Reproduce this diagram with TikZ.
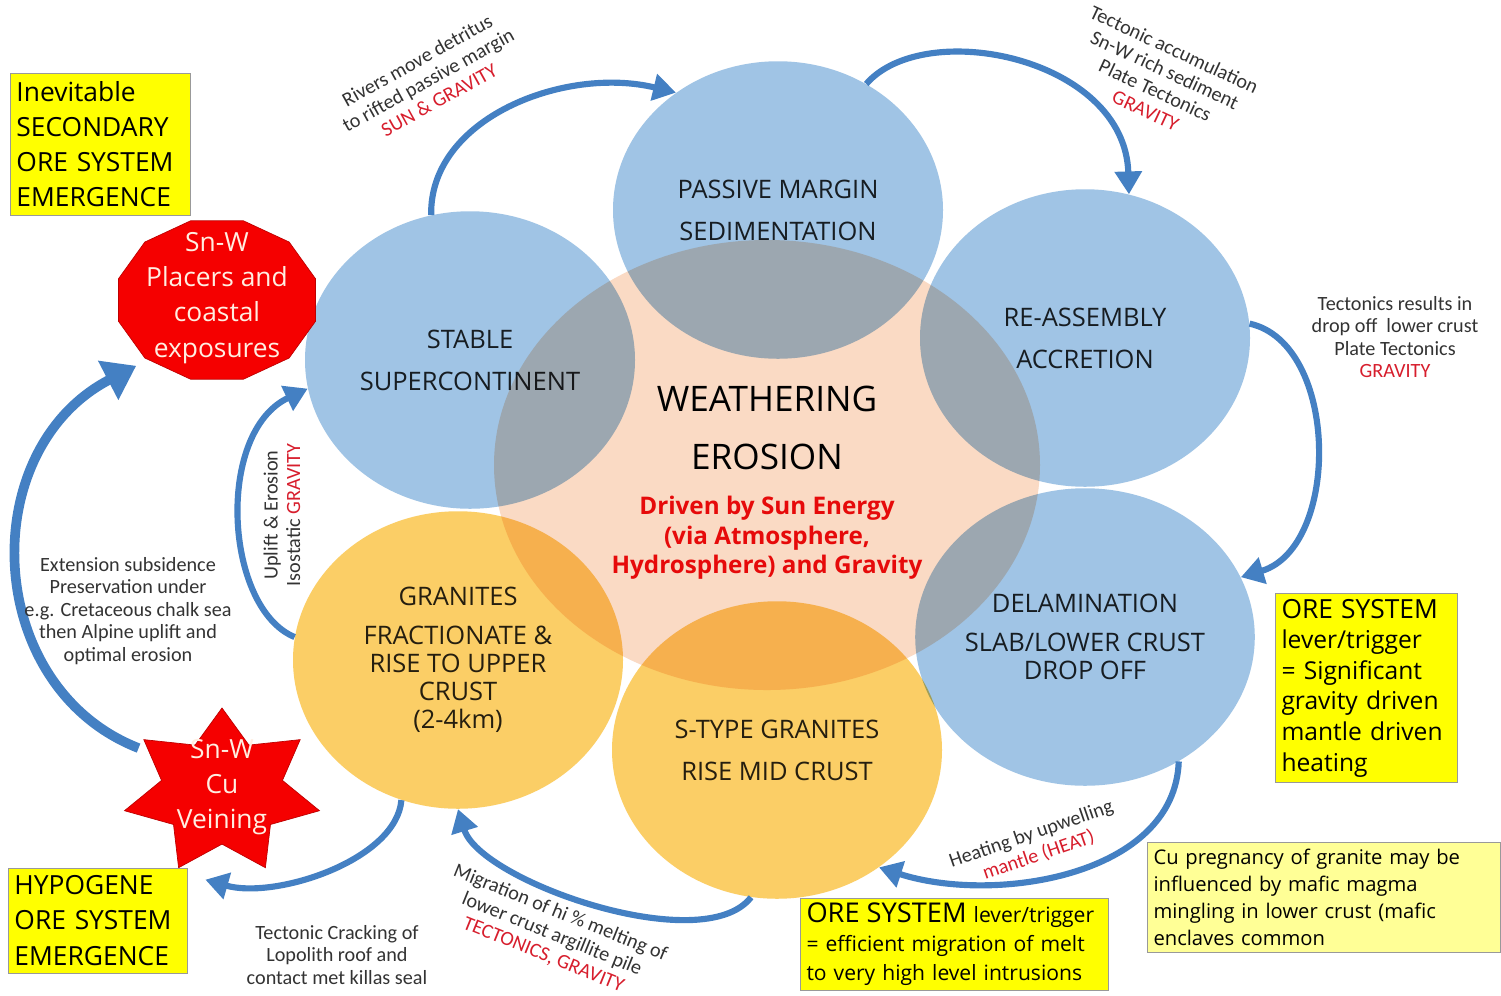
\documentclass[tikz,border=0pt]{standalone}
\usepackage{fontspec}
\setmainfont{Open Sans}
\newfontfamily\notefont{Carlito}
\usetikzlibrary{shapes,arrows.meta,positioning,calc}

\definecolor{circblue}{RGB}{160,196,229}
\definecolor{circyellow}{RGB}{251,206,102}
\definecolor{peach}{RGB}{250,218,196}
\definecolor{flowblue}{RGB}{68,128,195}
\definecolor{labelred}{RGB}{215,30,45}
\definecolor{drivred}{RGB}{230,10,10}
\definecolor{snred}{RGB}{245,0,0}
\definecolor{snedge}{RGB}{190,0,0}
\definecolor{boxyellow}{RGB}{255,255,0}
\definecolor{paleyellow}{RGB}{255,255,150}
\definecolor{snwhite}{RGB}{255,238,225}

\begin{document}
\begin{tikzpicture}[
    x=0.2mm, y=-0.2mm,
    stage/.style={ellipse, minimum width=66mm, minimum height=59.5mm, inner sep=0pt, align=center, font=\fontsize{14.5}{16}\selectfont, text=black!85, blend mode=multiply},
    bluestage/.style={stage, fill=circblue},
    granstage/.style={stage, fill=circyellow},
    flow/.style={draw=flowblue, line width=3.5pt, -{Triangle[length=13pt,width=15pt]}},
    bigflow/.style={line width=5.5pt, -{Triangle[length=18pt,width=24pt]}},
    note/.style={align=center, font=\notefont\fontsize{11.5}{12.8}\selectfont, text=black!80, inner sep=0pt},
    orebox/.style={draw=black!40, fill=boxyellow, align=left, font=\fontsize{15}{20}\selectfont, inner xsep=1.3mm, inner ysep=0.5mm},
    redshape/.style={text=snwhite, align=center, font=\fontsize{15}{20}\selectfont}
]

% Page
\fill[white] (0,0) rectangle (1501,995);
\useasboundingbox (0,0) rectangle (1501,995);

% Central weathering ellipse
\node[ellipse, fill=peach, minimum width=109.2mm, minimum height=90mm, blend mode=multiply] (erosion) at (767,465) {};

% Cycle stages
\node[bluestage] (passive) at (778,210) {PASSIVE MARGIN\\[8pt]SEDIMENTATION};
\node[bluestage] (stable) at (470,360) {STABLE\\[8pt]SUPERCONTINENT};
\node[bluestage] (reasm) at (1085,338) {RE-ASSEMBLY\\[8pt]ACCRETION};
\node[bluestage] (delam) at (1085,637) {DELAMINATION\\[6pt]SLAB/LOWER CRUST\\DROP OFF};
\node[granstage] (stype) at (777,750) {S-TYPE GRANITES\\[8pt]RISE MID CRUST};
\node[granstage] (granite) at (458,660) {GRANITES\\[6pt]FRACTIONATE \&\\RISE TO UPPER\\CRUST\\(2-4km)};

% Centre text
\node[align=center, font=\fontsize{20}{24}\selectfont] (weather) at (767,428) {WEATHERING\\[9pt]EROSION};
\node[align=center, text=drivred, font=\bfseries\fontsize{13.8}{16.8}\selectfont] (driven) at (767,538) {Driven by Sun Energy\\(via Atmosphere,\\Hydrosphere) and Gravity};

% Red ore shapes
\coordinate (placerc) at (217,300);
\coordinate (starc) at (222,792);
\fill[snred, draw=snedge, shift={(placerc)}] (15:102 and 82) \foreach \a in {45,75,...,345} { -- (\a:102 and 82) } -- cycle;
\fill[snred, draw=snedge, shift={(starc)}] (-90:100 and 84)
    \foreach \k [evaluate=\k as \ang using -90+\k*360/14, evaluate=\k as \rr using 1-0.38*isodd(\k)] in {1,...,13} { -- ({\ang}:{100*\rr} and {84*\rr}) } -- cycle;
\node[redshape, ellipse, minimum width=39.2mm, minimum height=29.6mm] (placer) at ([yshift=0.4mm]placerc) {Sn-W\\Placers and\\coastal\\exposures};
\node[redshape, ellipse, minimum width=38mm, minimum height=32mm] (veining) at ([yshift=1mm]starc) {Sn-W\\Cu\\Veining};

% Yellow boxes
\node[orebox, text width=33.4mm, minimum height=28.4mm] (secondary) at (100,144) {Inevitable\\SECONDARY\\ORE SYSTEM\\EMERGENCE};
\node[orebox, text width=33.2mm, minimum height=21mm] (hypogene) at (97.5,920.5) {HYPOGENE\\ORE SYSTEM\\EMERGENCE};
\node[orebox, text width=33.8mm, minimum height=37.8mm, font=\fontsize{14}{17.4}\selectfont] (trigger) at (1366,688) {{\fontsize{15}{17.4}\selectfont ORE SYSTEM}\\lever/trigger\\= Significant\\gravity driven\\mantle driven\\heating};
\node[orebox, text width=59mm, minimum height=18.4mm, font=\fontsize{12}{16.5}\selectfont] (melt) at (954,944) {{\fontsize{15.5}{16.5}\selectfont ORE SYSTEM} lever/trigger\\= efficient migration of melt\\to very high level intrusions};
\node[orebox, fill=paleyellow, text width=68mm, minimum height=22mm, font=\fontsize{11.5}{15.4}\selectfont] (mafic) at (1323.5,897) {Cu pregnancy of granite may be\\influenced by mafic magma\\mingling in lower crust (mafic\\enclaves common};

% Cycle arrows
\draw[flow] (stable.105) .. controls +(-2,-97) and +(-111,-27) .. (passive.131);
\draw[flow] (passive.55) .. controls +(58,-67) and +(-4,-137) .. (reasm.73);
\draw[flow] (reasm.5) .. controls +(90,20) and +(100,-30) .. (delam.21);
\draw[flow] (delam.-53) .. controls +(-4,115) and +(115,37) .. (stype.-49);
\draw[flow] (stype.-100) .. controls +(-48,62) and +(22,72) .. (granite.-90);
\draw[flow] (granite.172) .. controls +(-70,-29) and +(-93,44) .. (stable.190);
\draw[flow, bigflow] (veining.155) .. controls +(-156,-61) and +(-162,84) .. (placer.220);
\draw[flow] (granite.-112) .. controls +(-5,60) and +(70,20) .. ([xshift=3.6mm,yshift=-2.4mm]hypogene.north east);

% Process labels
\node[note, rotate=29] (rivers) at (428,80) {Rivers move detritus\\to rifted passive margin\\\textcolor{labelred}{SUN \& GRAVITY}};
\node[note, rotate=-25] (accum) at (1160,80) {Tectonic accumulation\\Sn-W rich sediment\\Plate Tectonics\\\textcolor{labelred}{GRAVITY}};
\node[note] (dropoff) at (1395,337) {Tectonics results in\\drop off~ lower crust\\Plate Tectonics\\\textcolor{labelred}{GRAVITY}};
\node[note, rotate=90] (uplift) at (282,515) {Uplift \& Erosion\\Isostatic \textcolor{labelred}{GRAVITY}};
\node[note] (extension) at (128,611) {Extension subsidence\\Preservation under\\e.g. Cretaceous chalk sea\\then Alpine uplift and\\optimal erosion};
\node[note] (cracking) at (337,955) {Tectonic Cracking of\\Lopolith roof and\\contact met killas seal};
\node[note, rotate=-22] (migration) at (552,934) {Migration of hi \% melting of\\lower crust argillite pile\\\textcolor{labelred}{TECTONICS, GRAVITY}};
\node[note, rotate=19] (heating) at (1035,845) {Heating by upwelling\\\textcolor{labelred}{mantle (HEAT)}};

\end{tikzpicture}
\end{document}
